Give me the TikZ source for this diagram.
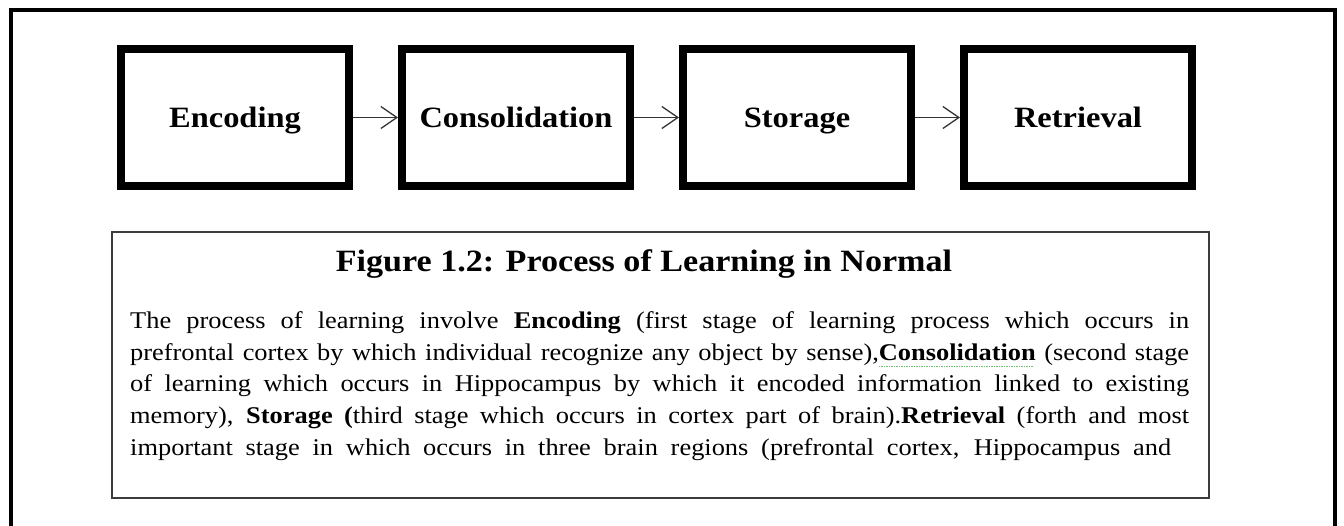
\documentclass[tikz,border=0pt]{standalone}
\usepackage{fontspec}
\setmainfont[FakeStretch=1.1]{Liberation Serif}
\usepackage{xcolor}
\usepackage{tikz}
\usetikzlibrary{positioning,arrows.meta}

\definecolor{edgegray}{HTML}{3C3C3C}
\definecolor{squig}{HTML}{6CC06C}

% spell-check squiggle under a word
\newcommand{\gramsquig}[1]{\setbox0=\hbox{#1}\rlap{\lower7pt\hbox{\color{squig}\leaders\hbox to 2.5pt{\rule{1.2pt}{1.2pt}\hss}\hskip\wd0}}\box0}

\tikzset{
  stage/.style={draw,line width=8pt,rectangle,minimum width=228pt,minimum height=137pt,
    font=\fontsize{29.5}{34}\selectfont\bfseries,text height=20pt,text depth=0pt},
  flow/.style={draw=black!80,line width=1.3pt,-{Straight Barb[length=16pt,width=22pt]}},
  capframe/.style={draw=edgegray,line width=1.8pt,rectangle}
}

\begin{document}
\begin{tikzpicture}[x=1pt,y=-1pt]
    \useasboundingbox (0,0) rectangle (1344,526);
    % outer frame, open at the bottom
    \draw[line width=4pt] (11,530) -- (11,10) -- (1335,10) -- (1335,530);

    % Stages
    \node[stage] (enc) at (235,117.5) {Encoding};
    \node[stage,right=45pt of enc] (cons) {Consolidation};
    \node[stage,right=45pt of cons] (stor) {Storage};
    \node[stage,right=45pt of stor] (retr) {Retrieval};

    \draw[flow] (enc) -- (cons);
    \draw[flow] (cons) -- (stor);
    \draw[flow] (stor) -- (retr);

    % Caption box
    \node[capframe,minimum width=1097pt,minimum height=266pt] (capbox) at (660.5,365) {};
    \node[anchor=base,font=\fontsize{31}{36}\selectfont\bfseries] (title) at (644,272)
        {Figure 1.2: Process of Learning in Normal};
    \node[anchor=base west,inner sep=0pt,text width=1059pt,align=justify,
          font=\fontsize{24}{31.75}\selectfont] (body) at (130,328.5)
        {\tolerance=10000\hyphenpenalty=10000\parfillskip=18pt\relax
         The process of learning involve \textbf{Encoding} (first stage of learning process which occurs in\linebreak
         prefrontal cortex by which individual recognize any object by sense),\textbf{\gramsquig{Consolidation}} (second stage\linebreak
         of learning which occurs in Hippocampus by which it encoded information linked to existing\linebreak
         memory), \textbf{Storage (}third stage which occurs in cortex part of brain).\textbf{Retrieval} (forth and most\linebreak
         important stage in which occurs in three brain regions (prefrontal cortex, Hippocampus and\par};
\end{tikzpicture}
\end{document}
